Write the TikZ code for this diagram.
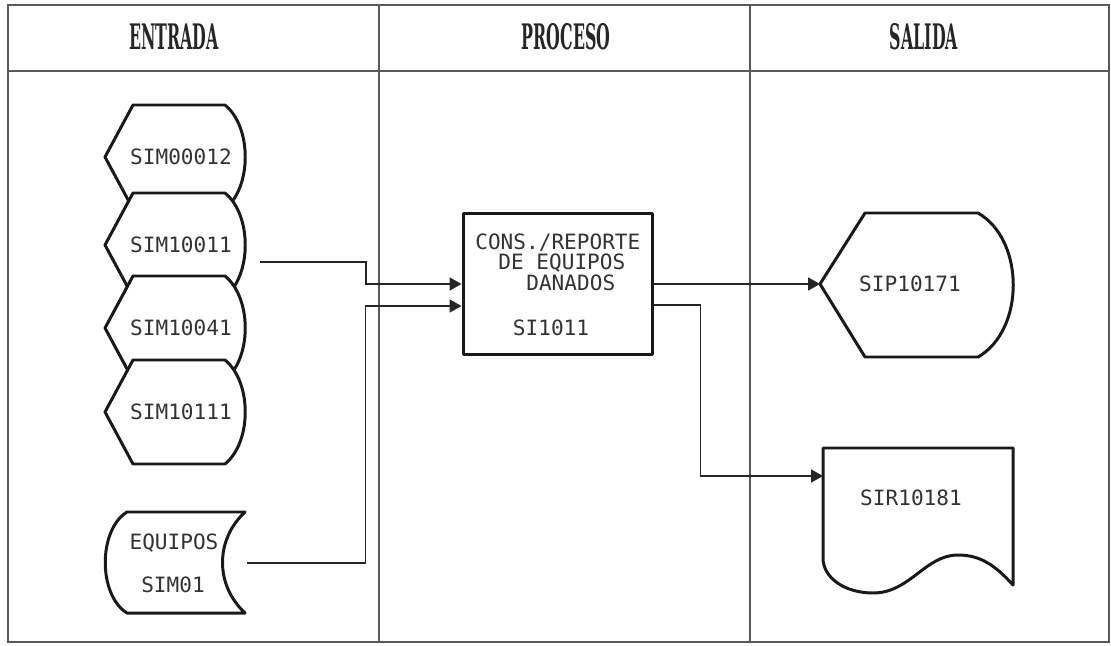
\documentclass[tikz,border=0pt]{standalone}
\usepackage{fontspec}
\usepackage{graphicx}
\setmonofont{DejaVu Sans Mono}
\newfontfamily\headfont{DejaVu Serif}
\usetikzlibrary{arrows.meta,positioning,calc}

\begin{document}
\begin{tikzpicture}[
  x=0.02cm, y=-0.02cm,
  frame/.style={draw=black!65, line width=0.7pt},
  head/.style={font=\headfont\bfseries\fontsize{20}{21}\selectfont, text=black!85},
  code/.style={font=\ttfamily\fontsize{12}{11.3}\selectfont, text=black!80, inner sep=0pt},
  symb/.style={draw=black!90, line width=1.7pt, fill=white, line join=round},
  conn/.style={draw=black!85, line width=1pt},
  arr/.style={conn, -{Triangle[length=0.24cm, width=0.26cm]}}
]

\useasboundingbox (0,0) rectangle (1111,645);

% Frame: three columns with a header row
\draw[frame] (8,5) rectangle (1109,642);
\draw[frame] (8,71) -- (1109,71);
\draw[frame] (379,5) -- (379,642);
\draw[frame] (750,5) -- (750,642);
\node[head] (hentrada) at (174,37) {\scalebox{0.45}[1]{ENTRADA}};
\node[head] (hproceso) at (566,37) {\scalebox{0.45}[1]{PROCESO}};
\node[head] (hsalida) at (924,37) {\scalebox{0.45}[1]{SALIDA}};

% Left: input files (display symbols, each one over the last)
\foreach \y/\nm/\txt in {157/f1/SIM00012, 245/f2/SIM10011, 328/f3/SIM10041, 412/f4/SIM10111}{
  \draw[symb] (105,\y) -- (133,\y-52) -- (225,\y-52)
    .. controls (252,\y-30) and (252,\y+30) .. (225,\y+52) -- (133,\y+52) -- cycle;
  \node[code] (\nm) at (181,\y) {\txt};
}
\coordinate (f2out) at (260,262);

% Left: stored data
\draw[symb] (127,512) -- (245,512) .. controls (215,540) and (215,585) .. (245,613)
  -- (127,613) .. controls (98,595) and (98,530) .. (127,512) -- cycle;
\node[code] (equipos) at (174,543) {EQUIPOS};
\node[code] (sim01) at (173,585) {SIM01};
\coordinate (eqout) at (247,563);

% Middle: process
\node[symb, minimum width=3.8cm, minimum height=2.84cm, inner sep=0pt] (proc) at (558,284) {};
\node[code, anchor=west] (ptxt1) at (475,243) {CONS./REPORTE};
\node[code, anchor=west] (ptxt2) at (498,263) {DE EQUIPOS};
\node[code, anchor=west] (ptxt3) at (526,283) {DANADOS};
\node[code] (pcode) at (551,328) {SI1011};

% Right: display and report
\draw[symb] (820,284) -- (865,213) -- (978,213)
  .. controls (1025,240) and (1025,330) .. (978,357) -- (865,357) -- cycle;
\node[code] (sip) at (910,284) {SIP10171};
\coordinate (sipin) at (820,284);

\draw[symb] (823,448) -- (1013,448) -- (1013,585)
  .. controls (995,565) and (980,555) .. (958,555)
  .. controls (925,555) and (910,593) .. (873,593)
  .. controls (845,593) and (823,578) .. (823,558) -- cycle;
\node[code] (sir) at (911,498) {SIR10181};
\coordinate (docin) at (823,476);

% Connectors
\draw[arr] (f2out) -- ++(106,0) |- (proc.west);
\draw[arr] (eqout) -| ($(proc.west)+(-96,22)$) -- ($(proc.west)+(0,22)$);
\draw[arr] (proc.east) -- (sipin);
\draw[arr] ($(proc.east)+(0,21)$) -- ++(46,0) |- (docin);

\end{tikzpicture}
\end{document}
